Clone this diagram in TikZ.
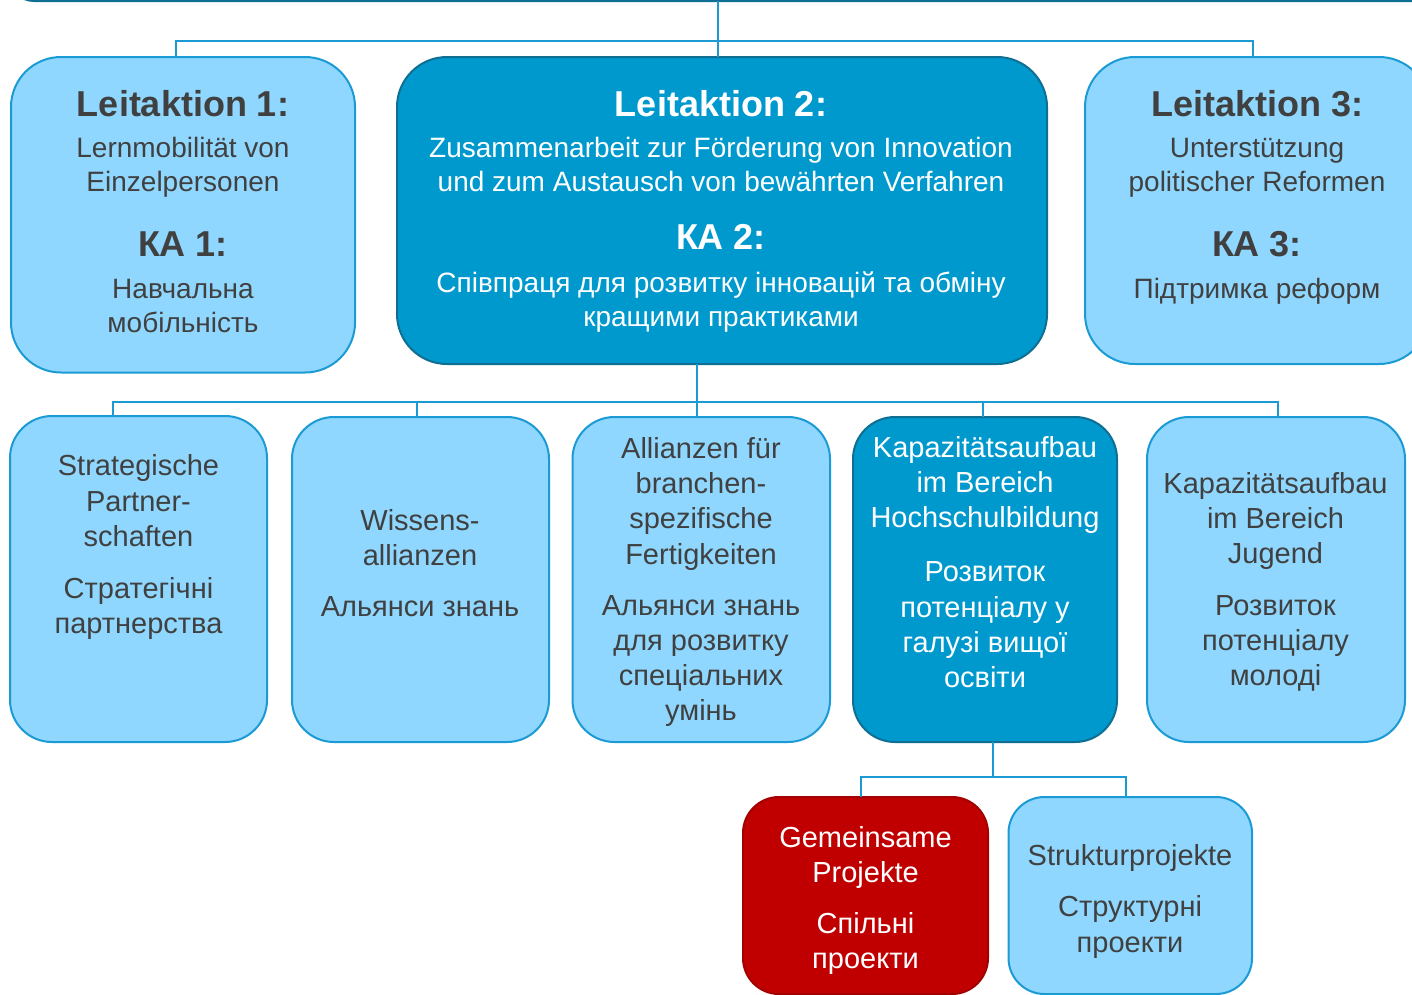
\documentclass[tikz,border=0pt]{standalone}
\usepackage{fontspec}
\setmainfont{Liberation Sans}
\definecolor{lfill}{HTML}{8FD7FE}
\definecolor{lstroke}{HTML}{1B9AD4}
\definecolor{dfill}{HTML}{0099CE}
\definecolor{dstroke}{HTML}{0F6F93}
\definecolor{rfill}{HTML}{C00000}
\definecolor{rstroke}{HTML}{A30000}
\definecolor{conncol}{HTML}{1B9AD4}
\definecolor{tgray}{HTML}{404040}
\newcommand\hdfont{\fontsize{36}{42}\selectfont\bfseries}
\newcommand\topfont{\fontsize{28}{33.7}\selectfont}
\newcommand\midfont{\fontsize{29}{35.3}\selectfont}
\tikzset{
  boxbase/.style={line width=2pt, anchor=north west, inner sep=0pt, outer sep=0pt},
  lbox/.style={boxbase, draw=lstroke, fill=lfill},
  dbox/.style={boxbase, draw=dstroke, fill=dfill},
  rbox/.style={boxbase, draw=rstroke, fill=rfill},
  conn/.style={draw=conncol, line width=2pt},
  txt/.style={inner sep=0pt, anchor=base, align=center, text=tgray},
  wtxt/.style={txt, text=white},
}
\begin{document}
\begin{tikzpicture}[x=1pt,y=-1pt]
\useasboundingbox (0,0) rectangle (1412,994);
\clip (0,0) rectangle (1412,994);
% top (cut-off) bar
\node[dbox, rounded corners=25pt, anchor=south west, minimum width=1440pt, minimum height=80pt] (top) at (9,1) {};
% top row boxes
\node[lbox, rounded corners=50pt, minimum width=344pt, minimum height=315.5pt] (l1) at (11,57) {};
\node[dbox, rounded corners=50pt, minimum width=650pt, minimum height=307pt] (l2) at (397,57) {};
\node[lbox, rounded corners=50pt, minimum width=344pt, minimum height=307pt] (l3) at (1085,57) {};
% middle row boxes
\node[lbox, rounded corners=42pt, minimum width=257pt, minimum height=326pt] (b1) at (10,416) {};
\node[lbox, rounded corners=42pt, minimum width=257pt, minimum height=325pt] (b2) at (292,417) {};
\node[lbox, rounded corners=42pt, minimum width=257.5pt, minimum height=325pt] (b3) at (572.5,417) {};
\node[dbox, rounded corners=42pt, minimum width=264pt, minimum height=325pt] (b4) at (853,417) {};
\node[lbox, rounded corners=42pt, minimum width=258pt, minimum height=325pt] (b5) at (1147,417) {};
% bottom row boxes
\node[rbox, rounded corners=36pt, minimum width=245pt, minimum height=197pt] (c1) at (743,797) {};
\node[lbox, rounded corners=36pt, minimum width=243.5pt, minimum height=197pt] (c2) at (1008.5,797) {};
% connectors: top
\coordinate (t0) at (717.5,41);
\coordinate (ta) at (176,41);
\coordinate (tb) at (1252.5,41);
\draw[conn] (t0 |- top.south) -- (t0 |- l2.north);
\draw[conn] (ta |- l1.north) -- (ta) -- (tb) -- (tb |- l3.north);
% connectors: middle
\coordinate (m0) at (696.5,401.7);
\coordinate (ma) at (113,401.7);
\coordinate (mb) at (417,401.7);
\coordinate (md) at (983,401.7);
\coordinate (me) at (1277.5,401.7);
\draw[conn] (m0 |- l2.south) -- (m0 |- b3.north);
\draw[conn] (ma |- b1.north) -- (ma) -- (me) -- (me |- b5.north);
\draw[conn] (mb) -- (mb |- b2.north);
\draw[conn] (md) -- (md |- b4.north);
% connectors: bottom
\coordinate (n0) at (992.5,777);
\coordinate (na) at (860.5,777);
\coordinate (nb) at (1126,777);
\draw[conn] (n0 |- b4.south) -- (n0);
\draw[conn] (na |- c1.north) -- (na) -- (nb) -- (nb |- c2.north);
% texts top row (anchor base = baseline of last line)
\node[txt, font=\hdfont] (l1h) at (183,116.7) {Leitaktion 1:};
\node[txt, font=\topfont] (l1g) at (183,191) {Lernmobilität von\\Einzelpersonen};
\node[txt, font=\hdfont] (l1k) at (183,256.7) {КА 1:};
\node[txt, font=\topfont] (l1u) at (183,332) {Навчальна\\мобільність};
\node[wtxt, font=\hdfont] (l2h) at (721,116.7) {Leitaktion 2:};
\node[wtxt, font=\topfont] (l2g) at (721,191) {Zusammenarbeit zur Förderung von Innovation\\und zum Austausch von bewährten Verfahren};
\node[wtxt, font=\hdfont] (l2k) at (721,249.5) {КА 2:};
\node[wtxt, font=\topfont] (l2u) at (721,326.2) {Співпраця для розвитку інновацій та обміну\\кращими практиками};
\node[txt, font=\hdfont] (l3h) at (1257,116.7) {Leitaktion 3:};
\node[txt, font=\topfont] (l3g) at (1257,191.5) {Unterstützung\\politischer Reformen};
\node[txt, font=\hdfont] (l3k) at (1257,256.7) {КА 3:};
\node[txt, font=\topfont] (l3u) at (1257,298.3) {Підтримка реформ};
% texts middle row
\node[txt, font=\midfont] (b1g) at (138.5,546.3) {Strategische\\Partner-\\schaften};
\node[txt, font=\midfont] (b1u) at (138.5,633.3) {Стратегічні\\партнерства};
\node[txt, font=\midfont] (b2g) at (420,565.3) {Wissens-\\allianzen};
\node[txt, font=\midfont] (b2u) at (420,616) {Альянси знань};
\node[txt, font=\midfont] (b3g) at (701,564.2) {Allianzen für\\branchen-\\spezifische\\Fertigkeiten};
\node[txt, font=\midfont] (b3u) at (701,720.9) {Альянси знань\\для розвитку\\спеціальних\\умінь};
\node[wtxt, font=\midfont] (b4g) at (985,527.9) {Kapazitätsaufbau\\im Bereich\\Hochschulbildung};
\node[wtxt, font=\midfont] (b4u) at (985,687.6) {Розвиток\\потенціалу у\\галузі вищої\\освіти};
\node[txt, font=\midfont] (b5g) at (1275.5,563.9) {Kapazitätsaufbau\\im Bereich\\Jugend};
\node[txt, font=\midfont] (b5u) at (1275.5,685.6) {Розвиток\\потенціалу\\молоді};
% texts bottom row
\node[wtxt, font=\midfont] (c1g) at (865.5,882.6) {Gemeinsame\\Projekte};
\node[wtxt, font=\midfont] (c1u) at (865.5,968.6) {Спільні\\проекти};
\node[txt, font=\midfont] (c2g) at (1130,865.7) {Strukturprojekte};
\node[txt, font=\midfont] (c2u) at (1130,952) {Структурні\\проекти};
\end{tikzpicture}
\end{document}
